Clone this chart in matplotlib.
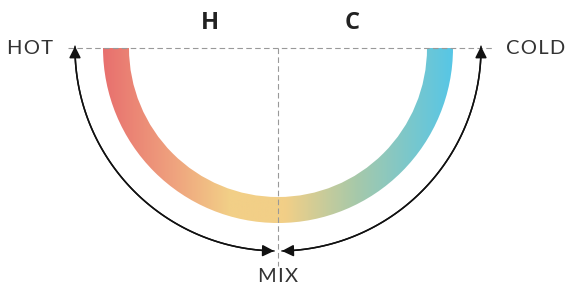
import numpy as np
import matplotlib
matplotlib.use("Agg")
import matplotlib.pyplot as plt
from matplotlib.patches import Wedge, FancyArrowPatch
from matplotlib.path import Path
from matplotlib.colors import LinearSegmentedColormap

# ---- data ----
end_labels = ["HOT", "COLD"]
mix_label = "MIX"
top_labels = ["H", "C"]
gradient_colors = ["#E8706E", "#EFA27E", "#F2CF87", "#F2CF87", "#A8C9A9", "#57C6E6"]
gradient_stops = [0.0, 0.2, 0.36, 0.52, 0.72, 1.0]

# geometry (data units ~ pixels)
R_OUT, R_IN = 175, 149
R_ARROW = 203

fig = plt.figure(figsize=(5.69, 2.93), dpi=100)
ax = fig.add_axes([0, 0, 1, 1])
ax.set_xlim(-278, 291)
ax.set_ylim(-245, 48)
ax.set_aspect("equal")
ax.axis("off")

# gradient ring
cmap = LinearSegmentedColormap.from_list("hc", list(zip(gradient_stops, gradient_colors)))
grad = np.linspace(0, 1, 512).reshape(1, -1)
im = ax.imshow(grad, cmap=cmap, extent=[-R_OUT, R_OUT, -R_OUT, 0], aspect="auto", zorder=2)
ring = Wedge((0, 0), R_OUT, 180, 360, width=R_OUT - R_IN, transform=ax.transData,
             facecolor="none", edgecolor="none")
ax.add_patch(ring)
im.set_clip_path(ring)

# dashed guides
ax.plot([-210, 214], [0, 0], ls=(0, (5, 3)), color="#999999", lw=0.8, zorder=3)
ax.plot([0, 0], [0, -218], ls=(0, (5, 3)), color="#999999", lw=0.8, zorder=3)

# curved arrows
def arc_path(a0, a1, r):
    t = np.radians(np.linspace(a0, a1, 100))
    return Path(np.column_stack([r * np.cos(t), r * np.sin(t)]))

for a0, a1 in [(179.5, 268.9), (-88.9, 0.5)]:
    for p in (arc_path(a0, a1, R_ARROW), arc_path(a1, a0, R_ARROW)):
        ax.add_patch(FancyArrowPatch(path=p, arrowstyle="-|>,head_length=7,head_width=3.5",
                                     color="#111111", lw=1.1, zorder=4))

txt = dict(color="#333333", fontsize=14.5, family="Lato", fontweight="normal", va="center")
sp = "\u200a"
ax.text(-248, 0, sp.join(end_labels[0]), ha="center", **txt)
ax.text(258, 0, sp.join(end_labels[1]), ha="center", **txt)
ax.text(0, -229, sp.join(mix_label), ha="center", **txt)

bold = dict(color="#222222", fontsize=17, family="Open Sans", fontweight="bold", va="center", ha="center")
ax.text(-68, 25, top_labels[0], **bold)
ax.text(74, 25, top_labels[1], **bold)

fig.savefig("out.png", dpi=100)
